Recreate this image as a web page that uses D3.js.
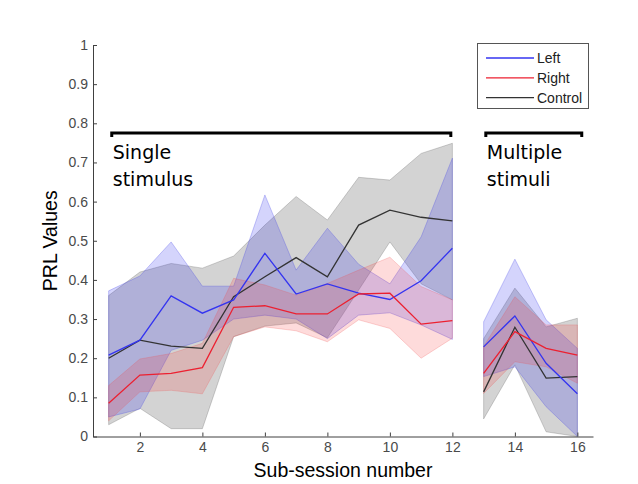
<!DOCTYPE html>
<html>
<head>
    <meta charset="utf-8">
    <title>PRL Values by Sub-session</title>
    <script src="https://d3js.org/d3.v7.min.js"></script>
    <style>
        body { margin: 0; background: #fff; }
        .tick text { font-family: "Liberation Sans", Arial, sans-serif; font-size: 14px; fill: #4a4a4a; }
        .domain, .tick line { stroke: #404040; }
    </style>
</head>
<body>
<div id="chart"></div>
<script>
// sub-session numbers, two blocks (single stimulus 1-12, multiple stimuli 13-16)
var sessions = [1, 2, 3, 4, 5, 6, 7, 8, 9, 10, 11, 12, 13, 14, 15, 16];
var blocks = [[0, 12], [12, 16]];

var leftMean = [0.208, 0.246, 0.359, 0.315, 0.349, 0.468, 0.364, 0.39, 0.366, 0.35, 0.398, 0.481, 0.229, 0.308, 0.187, 0.109];
var leftHi   = [0.372, 0.41, 0.497, 0.384, 0.384, 0.617, 0.425, 0.532, 0.44, 0.39, 0.51, 0.711, 0.293, 0.453, 0.298, 0.225];
var leftLo   = [0.05, 0.07, 0.22, 0.246, 0.3, 0.31, 0.3, 0.25, 0.31, 0.316, 0.285, 0.248, 0.153, 0.178, 0.076, 0.0];

var rightMean = [0.085, 0.157, 0.161, 0.176, 0.33, 0.334, 0.313, 0.313, 0.364, 0.366, 0.287, 0.296, 0.161, 0.268, 0.225, 0.208];
var rightHi   = [0.13, 0.198, 0.212, 0.238, 0.404, 0.387, 0.361, 0.391, 0.425, 0.458, 0.383, 0.349, 0.23, 0.357, 0.285, 0.285];
var rightLo   = [0.04, 0.114, 0.118, 0.109, 0.255, 0.28, 0.27, 0.242, 0.298, 0.276, 0.2, 0.251, 0.11, 0.191, 0.178, 0.136];

var ctrlMean = [0.2, 0.246, 0.231, 0.225, 0.357, 0.408, 0.457, 0.408, 0.54, 0.578, 0.56, 0.551, 0.114, 0.279, 0.149, 0.153];
var ctrlHi   = [0.36, 0.42, 0.442, 0.43, 0.461, 0.54, 0.613, 0.553, 0.662, 0.655, 0.723, 0.749, 0.25, 0.379, 0.28, 0.302];
var ctrlLo   = [0.03, 0.072, 0.02, 0.02, 0.255, 0.282, 0.29, 0.252, 0.374, 0.497, 0.39, 0.349, 0.045, 0.183, 0.012, 0.0];

var xTicks = [2, 4, 6, 8, 10, 12, 14, 16];
var yTicks = [0, 0.1, 0.2, 0.3, 0.4, 0.5, 0.6, 0.7, 0.8, 0.9, 1];

var legendNames = ["Left", "Right", "Control"];
var bracketLabels = [["Single", "stimulus"], ["Multiple", "stimuli"]];
var bracketSpans = [[1.1, 11.95], [13.07, 16.14]];
var bracketLevel = 0.775;

// dimensions
var width = 638, height = 484;
var x = d3.scaleLinear().domain([0.5, 16.5]).range([93, 593]);
var y = d3.scaleLinear().domain([0, 1]).range([436.5, 45]);

var svg = d3.select("#chart").append("svg")
    .attr("width", width)
    .attr("height", height);

var series = [
    { name: "Control", mean: ctrlMean, lo: ctrlLo, hi: ctrlHi, fill: "rgba(110,110,110,0.3)", edge: "rgba(90,90,90,0.35)", line: "#333333" },
    { name: "Left", mean: leftMean, lo: leftLo, hi: leftHi, fill: "rgba(40,40,240,0.2)", edge: "rgba(60,60,230,0.35)", line: "#3434f0" },
    { name: "Right", mean: rightMean, lo: rightLo, hi: rightHi, fill: "rgba(250,40,40,0.17)", edge: "rgba(240,80,80,0.3)", line: "#ec2030" }
];

var area = d3.area()
    .x(function(d) { return x(d.s); })
    .y0(function(d) { return y(d.lo); })
    .y1(function(d) { return y(d.hi); });

var line = d3.line()
    .x(function(d) { return x(d.s); })
    .y(function(d) { return y(d.m); });

function rows(s, b) {
    var out = [];
    for (var i = b[0]; i < b[1]; i++) {
        out.push({ s: sessions[i], m: s.mean[i], lo: s.lo[i], hi: s.hi[i] });
    }
    return out;
}

// shaded bands
series.forEach(function(s) {
    blocks.forEach(function(b) {
        svg.append("path")
            .datum(rows(s, b))
            .attr("d", area)
            .attr("fill", s.fill)
            .attr("stroke", s.edge)
            .attr("stroke-width", 0.8);
    });
});

// mean lines
series.forEach(function(s) {
    blocks.forEach(function(b) {
        svg.append("path")
            .datum(rows(s, b))
            .attr("d", line)
            .attr("fill", "none")
            .attr("stroke", s.line)
            .attr("stroke-width", 1.3);
    });
});

// axes, ticks inside like matlab
svg.append("g")
    .attr("transform", "translate(0," + y(0) + ")")
    .call(d3.axisBottom(x).tickValues(xTicks).tickSizeInner(-4).tickSizeOuter(0).tickPadding(6));

svg.append("g")
    .attr("transform", "translate(" + x(0.5) + ",0)")
    .call(d3.axisLeft(y).tickValues(yTicks).tickFormat(d3.format("~g")).tickSizeInner(-4).tickSizeOuter(0).tickPadding(5));

svg.append("text")
    .attr("x", (x(0.5) + x(16.5)) / 2)
    .attr("y", 477)
    .attr("text-anchor", "middle")
    .style("font-family", "Liberation Sans, Arial, sans-serif")
    .style("font-size", "19.5px")
    .text("Sub-session number");

svg.append("text")
    .attr("transform", "translate(57," + (y(0) + y(1)) / 2 + ") rotate(-90)")
    .attr("text-anchor", "middle")
    .style("font-family", "Liberation Sans, Arial, sans-serif")
    .style("font-size", "19.5px")
    .text("PRL Values");

// brackets over the two blocks
bracketSpans.forEach(function(sp, i) {
    var x0 = x(sp[0]), x1 = x(sp[1]), yb = y(bracketLevel);
    svg.append("path")
        .attr("d", "M" + x0 + "," + (yb + 4) + "V" + yb + "H" + x1 + "V" + (yb + 4))
        .attr("fill", "none")
        .attr("stroke", "#000")
        .attr("stroke-width", 3);
    var t = svg.append("text")
        .attr("x", x0 + 1)
        .attr("y", 159)
        .style("font-family", "DejaVu Sans, Verdana, sans-serif")
        .style("font-size", "19px");
    bracketLabels[i].forEach(function(w, j) {
        t.append("tspan").attr("x", x0 + 1).attr("dy", j == 0 ? 0 : 27).text(w);
    });
});

// legend
var legend = svg.append("g");
legend.append("rect")
    .attr("x", 477.5).attr("y", 43.5)
    .attr("width", 111).attr("height", 65)
    .attr("fill", "#fff")
    .attr("stroke", "#555");
legendNames.forEach(function(n, i) {
    var s = series.filter(function(d) { return d.name == n; })[0];
    var ly = 58 + i * 19.8;
    legend.append("line")
        .attr("x1", 486).attr("x2", 534)
        .attr("y1", ly).attr("y2", ly)
        .attr("stroke", s.line)
        .attr("stroke-width", 1.3);
    legend.append("text")
        .attr("x", 537).attr("y", ly + 5)
        .style("font-family", "Liberation Sans, Arial, sans-serif")
        .style("font-size", "14px")
        .style("fill", "#222")
        .text(n);
});
</script>
</body>
</html>
